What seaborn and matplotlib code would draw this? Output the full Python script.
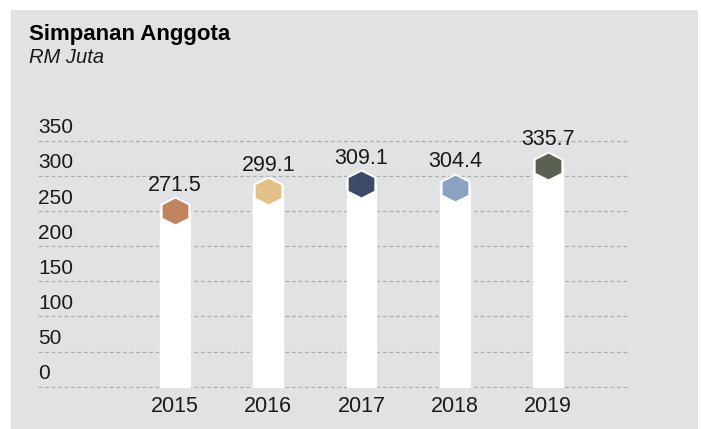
import numpy as np
import pandas as pd
import matplotlib
matplotlib.use("Agg")
import matplotlib.pyplot as plt
from matplotlib.patches import Rectangle
import seaborn as sns

# ----------------------------------------
# Data
# ----------------------------------------

years = ["2015", "2016", "2017", "2018", "2019"]
savings = [271.5, 299.1, 309.1, 304.4, 335.7]
hex_colors = ["#c0835e", "#e5bf88", "#3d4a66", "#8ca2bf", "#5b6152"]
y_ticks = [0, 50, 100, 150, 200, 250, 300, 350]

# ----------------------------------------
# Style
# ----------------------------------------

sns.set_theme(style="white")
plt.rcParams["font.family"] = ["Liberation Sans", "DejaVu Sans"]

panel_color = "#e1e2e4"
grid_color = "#adadad"
text_color = "#1a1a1a"
hex_drop = 21  # hexagon sits just under the top of each column

df = pd.DataFrame({"year": years, "value": savings})
df["column_top"] = df["value"] - hex_drop

hexagon = [(0, 1), (1, 0.5), (1, -0.5), (0, -1), (-1, -0.5), (-1, 0.5), (0, 1)]

fig = plt.figure(figsize=(7.01, 4.29), dpi=100)
fig.patch.set_facecolor("white")
fig.patches.append(Rectangle((11 / 701, 0), 687 / 701, 1 - 10 / 429,
                             transform=fig.transFigure, facecolor=panel_color,
                             edgecolor="none", zorder=-10))

# 0.7 px per unit, zero line at y=386 px
ax = fig.add_axes([38 / 701, 1 - 388 / 429, 590 / 701, 254 / 429])
ax.set_facecolor("none")

sns.barplot(data=df, x="year", y="column_top", color="white", width=0.32,
            saturation=1, ax=ax, zorder=2)

for i, row in df.iterrows():
    ax.plot(i, row["column_top"], marker=hexagon, markersize=21.6,
            color="white", markeredgewidth=0, zorder=3, clip_on=False)
    ax.plot(i, row["column_top"], marker=hexagon, markersize=18.5,
            color=hex_colors[i], markeredgewidth=0, zorder=4, clip_on=False)
    ax.annotate(f"{row['value']:.1f}", (i, row["value"]), xytext=(0, 4),
                textcoords="offset points", ha="center", va="baseline",
                fontsize=15.5, color=text_color, zorder=5)

# dashed gridlines with labels sitting on top of them
for t in y_ticks:
    ax.axhline(t, color=grid_color, linestyle=(0, (3, 2.2)), linewidth=0.9,
               zorder=1)
    ax.annotate(str(t), (0, t), xycoords=ax.get_yaxis_transform(),
                xytext=(0, 5.5), textcoords="offset points", ha="left",
                va="baseline", fontsize=15, color=text_color)

ax.set_xlim(-1.469, 4.858)
ax.set_ylim(-2, 360)
ax.set_yticks([])
ax.set_xlabel("")
ax.set_ylabel("")
ax.tick_params(axis="x", length=0, labelsize=15.5, labelcolor=text_color, pad=6)
sns.despine(ax=ax, left=True, bottom=True)

fig.text(29 / 701, 1 - 40 / 429, "Simpanan Anggota", fontsize=16,
         fontweight="bold", color="#000000", ha="left", va="baseline")
fig.text(29 / 701, 1 - 63 / 429, "RM Juta", fontsize=14.5, fontstyle="italic",
         color=text_color, ha="left", va="baseline")

fig.savefig("out.png", dpi=100, facecolor=fig.get_facecolor())
